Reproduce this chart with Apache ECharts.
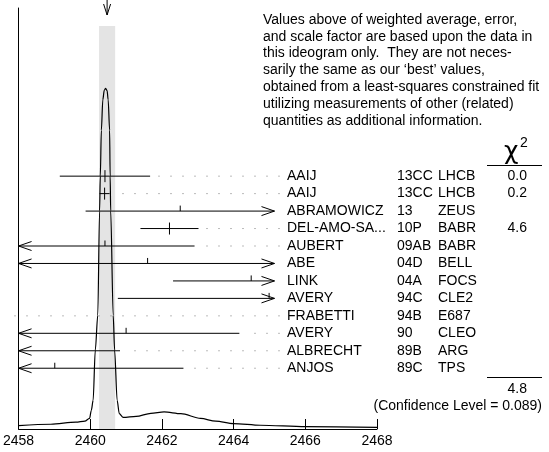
<!DOCTYPE html>
<html>
<head>
<meta charset="utf-8">
<script src="https://cdn.jsdelivr.net/npm/echarts@6/dist/echarts.min.js"></script>
<style>
  html, body { margin: 0; padding: 0; background: #fff; }
  #chart { width: 549px; height: 452px; }
</style>
</head>
<body>
<div id="chart"></div>
<script>
// axis range, the right end of the error-bar region and the weighted average
const xMin = 2458, xMax = 2468, clipMax = 2465.14;
const avg = 2460.47, avgErr = 0.225;

// measurements, top to bottom
const names = ['AAIJ', 'AAIJ', 'ABRAMOWICZ', 'DEL-AMO-SA...', 'AUBERT', 'ABE', 'LINK', 'AVERY', 'FRABETTI', 'AVERY', 'ALBRECHT', 'ANJOS'];
const docs = ['13CC', '13CC', '13', '10P', '09AB', '04D', '04A', '94C', '94B', '90', '89B', '89C'];
const tecns = ['LHCB', 'LHCB', 'ZEUS', 'BABR', 'BABR', 'BELL', 'FOCS', 'CLE2', 'E687', 'CLEO', 'ARG', 'TPS'];
const values = [2460.41, 2460.40, 2462.51, 2462.21, 2460.41, 2461.60, 2464.49, 2464.99, 2455.0, 2461.0, 2457.5, 2459.01];
const errors = [1.26, 0.14, 2.64, 0.81, 2.50, 4.0, 2.18, 4.22, 2.0, 3.16, 3.33, 3.59];
const chi2 = ['0.0', '0.2', '', '4.6', '', '', '', '', '', '', '', ''];
const chi2Total = '4.8';
const confLevel = '0.089';

// ideogram curve (peak = 1)
const curveX = [2458.0, 2458.9, 2459.6, 2459.85, 2459.98, 2460.03, 2460.08, 2460.14, 2460.21, 2460.26, 2460.28, 2460.31, 2460.35, 2460.39, 2460.43, 2460.47, 2460.50, 2460.54, 2460.555, 2460.57, 2460.64, 2460.68, 2460.75, 2460.81, 2460.92, 2461.28, 2461.69, 2462.06, 2462.53, 2463.08, 2463.5, 2464.0, 2464.75, 2466.0, 2468.0];
const curveY = [0.010, 0.014, 0.020, 0.023, 0.031, 0.055, 0.084, 0.231, 0.334, 0.640, 0.742, 0.877, 0.966, 0.994, 1.0, 0.993, 0.966, 0.877, 0.742, 0.640, 0.334, 0.231, 0.084, 0.045, 0.034, 0.037, 0.046, 0.050, 0.045, 0.031, 0.023, 0.016, 0.011, 0.007, 0.005];

const note = [
  'Values above of weighted average, error,',
  'and scale factor are based upon the data in',
  'this ideogram only.  They are not neces-',
  'sarily the same as our \u2018best\u2019 values,',
  'obtained from a least-squares constrained fit',
  'utilizing measurements of other (related)',
  'quantities as additional information.'
];

const FAMILY = '"Liberation Sans", Arial, sans-serif';
const FONT = '14px ' + FAMILY;
const bandTop = 1.183;

function txt(x, y, s, align, font) {
  return { type: 'text', x: x, y: y, style: { text: s, font: font || FONT, fill: '#000', align: align || 'left', verticalAlign: 'middle' } };
}
function seg(pts, extra) {
  return { type: 'polyline', shape: { points: pts }, style: Object.assign({ stroke: '#000', lineWidth: 1, fill: 'none' }, extra || {}) };
}

function renderRow(params, api) {
  const i = params.dataIndex;
  const v = api.value(0), row = api.value(1), e = api.value(2);
  const y = api.coord([xMin, row])[1];
  const kids = [];
  const lo = v - e, hi = v + e;
  let dotStart = 5;
  if (hi >= xMin && lo <= clipMax) {
    const xl = api.coord([Math.max(lo, xMin), row])[0];
    const xr = api.coord([Math.min(hi, clipMax), row])[0];
    kids.push(seg([[xl, y], [xr, y]]));
    if (lo < xMin) kids.push(seg([[xl + 13, y - 4.5], [xl, y], [xl + 13, y + 4.5]]));
    if (hi > clipMax) kids.push(seg([[xr - 13, y - 4.5], [xr, y], [xr - 13, y + 4.5]]));
    dotStart = hi > clipMax ? null : xr + 8;
    if (v >= xMin && v <= clipMax) {
      const xc = api.coord([v, row])[0];
      if (chi2[i] !== '') kids.push(seg([[xc, y - 6], [xc, y + 6]]));
      else kids.push(seg([[xc, y - 5.5], [xc, y]]));
    }
  }
  if (dotStart !== null) {
    kids.push(seg([[279.5, y], [dotStart, y]], { stroke: '#777', lineDash: [1, 11] }));
  }
  kids.push(txt(287, y, names[i]));
  kids.push(txt(397, y, docs[i]));
  kids.push(txt(438, y, tecns[i]));
  if (chi2[i] !== '') kids.push(txt(527, y, chi2[i], 'right'));
  return { type: 'group', children: kids };
}

function renderAvg(params, api) {
  const p0 = api.coord([avg - avgErr, 0]);
  const p1 = api.coord([avg + avgErr, bandTop]);
  const xc = api.coord([api.value(0), 0])[0];
  return {
    type: 'group',
    children: [
      { type: 'rect', shape: { x: p0[0], y: p1[1], width: p1[0] - p0[0], height: p0[1] - p1[1] }, style: { fill: '#e4e4e4' } },
      seg([[xc, 0], [xc, 15]]),
      seg([[xc - 3.5, 4], [xc, 15], [xc + 3.5, 4]])
    ]
  };
}

const chart = echarts.init(document.getElementById('chart'), null, { renderer: 'canvas' });

const graphics = note.map((s, k) => ({
  type: 'text', x: 263, y: 20 + k * 16.8,
  style: { text: s, font: FONT, fill: '#000', verticalAlign: 'middle' }
}));
graphics.push(
  txt(504, 152, '\u03c7', 'left', '25px "DejaVu Sans", sans-serif'),
  txt(520, 143, '2', 'left', '14px ' + FAMILY),
  { type: 'line', shape: { x1: 487, y1: 165.5, x2: 542, y2: 165.5 }, style: { stroke: '#000', lineWidth: 1 } },
  { type: 'line', shape: { x1: 487, y1: 377.5, x2: 542, y2: 377.5 }, style: { stroke: '#000', lineWidth: 1 } },
  txt(527, 389, chi2Total, 'right'),
  txt(542, 406, '(Confidence Level = ' + confLevel + ')', 'right')
);

const option = {
  animation: false,
  backgroundColor: '#fff',
  grid: { left: 17, right: 172, top: 8, bottom: 23 },
  xAxis: {
    type: 'value', min: xMin, max: xMax, interval: 2,
    axisLine: { onZero: false, lineStyle: { color: '#000', width: 1 } },
    axisTick: { inside: true, length: 10, lineStyle: { color: '#000' } },
    axisLabel: { color: '#000', fontSize: 14, fontFamily: FAMILY, margin: 5, formatter: v => String(v) },
    splitLine: { show: false }
  },
  yAxis: [
    {
      type: 'value', inverse: true, min: -9.63, max: 14.48,
      axisLine: { show: true, onZero: false, lineStyle: { color: '#000', width: 1 } },
      axisTick: { show: false }, axisLabel: { show: false }, splitLine: { show: false }
    },
    {
      type: 'value', min: 0, max: 1.2357, show: false, splitLine: { show: false }
    }
  ],
  graphic: graphics,
  series: [
    {
      type: 'custom', yAxisIndex: 1, z: 1, clip: false, silent: true,
      renderItem: renderAvg, data: [[avg, 0]]
    },
    {
      type: 'line', yAxisIndex: 1, z: 3, silent: true,
      data: curveX.map((x, k) => [x, curveY[k]]),
      smooth: 0.3, smoothMonotone: 'x', showSymbol: false, symbol: 'none',
      lineStyle: { color: '#000', width: 1.2 }
    },
    {
      type: 'custom', yAxisIndex: 0, z: 4, clip: false, silent: true,
      renderItem: renderRow,
      data: values.map((v, k) => [v, k, errors[k]])
    }
  ]
};
chart.setOption(option);
</script>
</body>
</html>
